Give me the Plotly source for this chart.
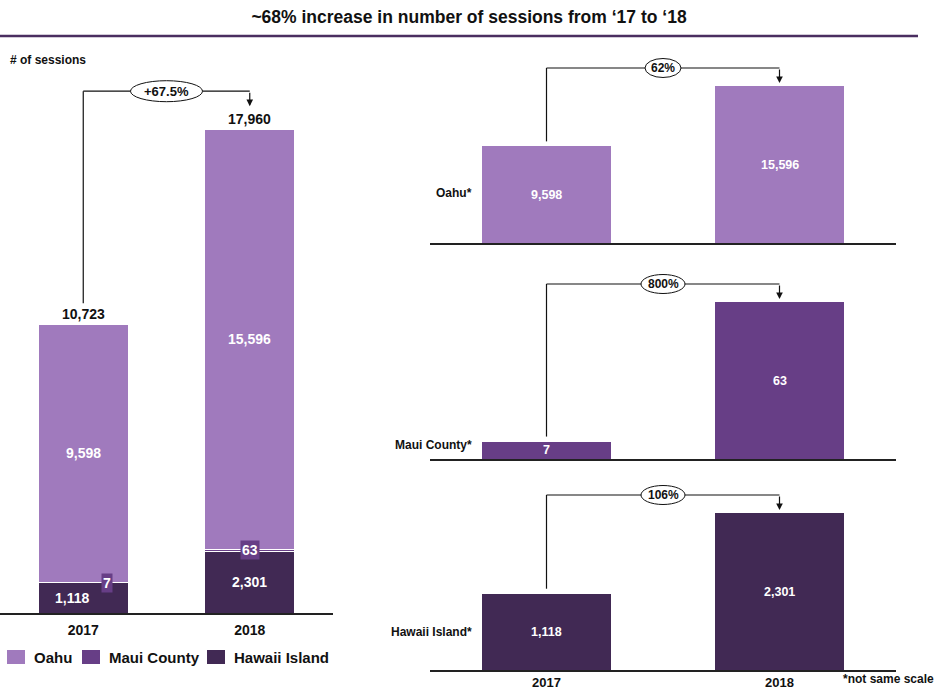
import plotly.graph_objects as go

W, H = 938, 693

# ---- data -------------------------------------------------------------
years = ["2017", "2018"]
oahu = [9598, 15596]
maui = [7, 63]
hawaii = [1118, 2301]
totals = [10723, 17960]
total_growth = "+67.5%"
region_names = ["Oahu", "Maui County", "Hawaii Island"]
region_growth = ["62%", "800%", "106%"]

COLORS = {"Oahu": "#a07abd", "Maui County": "#673e86", "Hawaii Island": "#412954"}
FONT = "Arial, 'Liberation Sans', sans-serif"


def py(p):
    """pixel row -> paper y"""
    return 1 - p / H


def px(p):
    """pixel column -> paper x"""
    return p / W


xs = [0, 1]
fig = go.Figure()
shapes, annos = [], []


def text_at(x, y, text, size, xanchor="center", color="#111"):
    annos.append(dict(xref="paper", yref="paper", x=px(x), y=py(y), xanchor=xanchor,
                      yanchor="middle", text=text, showarrow=False,
                      font=dict(size=size, color=color, family=FONT, weight="bold")))


def connector(xa, ya, v0, v1, k, start_gap, level_gap, tip_gap, label, ew, eh, fsize):
    """elbow arrow from the first bar to the second with an oval growth tag"""
    y_start = v0 + start_gap / k
    y_level = v1 + level_gap / k
    y_tip = v1 + tip_gap / k
    line = dict(color="#111", width=1.2)
    shapes.append(dict(type="line", xref=xa, yref=ya, x0=0, x1=0, y0=y_start, y1=y_level, line=line))
    shapes.append(dict(type="line", xref=xa, yref=ya, x0=0, x1=1, y0=y_level, y1=y_level, line=line))
    annos.append(dict(xref=xa, yref=ya, x=1, y=y_tip, ax=0, ay=-(level_gap - tip_gap),
                      text="", showarrow=True, arrowhead=2, arrowsize=1.1,
                      arrowwidth=1.2, arrowcolor="#111", standoff=0))
    shapes.append(dict(type="circle", xref=xa, yref=ya, xsizemode="pixel", ysizemode="pixel",
                       xanchor=0.5, yanchor=y_level, x0=-ew / 2, x1=ew / 2, y0=-eh / 2, y1=eh / 2,
                       fillcolor="white", line=dict(color="#111", width=1)))
    annos.append(dict(xref=xa, yref=ya, x=0.5, y=y_level, text=label, showarrow=False,
                      font=dict(size=fsize, color="#111", family=FONT, weight="bold")))


# ---- left: stacked totals --------------------------------------------
stack = [("Hawaii Island", hawaii), ("Maui County", maui), ("Oahu", oahu)]
for name, vals in stack:
    fig.add_trace(go.Bar(x=xs, y=vals, name=name, width=0.54, xaxis="x", yaxis="y",
                         marker=dict(color=COLORS[name], line=dict(color="white", width=1)),
                         showlegend=False, hoverinfo="skip"))

L_BASE, L_TOP, L_MAX = 613, 50, 20900
kL = (L_BASE - L_TOP) / L_MAX
white14 = dict(size=14, color="white", family=FONT, weight="bold")
for i in range(2):
    annos.append(dict(xref="x", yref="y", x=xs[i], y=hawaii[i] + maui[i] + oahu[i] / 2,
                      text=f"{oahu[i]:,}", showarrow=False, font=white14))
    annos.append(dict(xref="x", yref="y", x=xs[i], y=hawaii[i] / 2, xshift=-11 if i == 0 else 0,
                      text=f"{hawaii[i]:,}", showarrow=False, font=white14))
    annos.append(dict(xref="x", yref="y", x=xs[i], y=hawaii[i] + maui[i] / 2,
                      xshift=24 if i == 0 else 0, text=f"{maui[i]:,}", showarrow=False,
                      bgcolor=COLORS["Maui County"], borderpad=1, font=white14))
    annos.append(dict(xref="x", yref="y", x=xs[i], y=totals[i], yshift=10,
                      text=f"{totals[i]:,}", showarrow=False,
                      font=dict(size=14, color="#111", family=FONT, weight="bold")))
connector("x", "y", totals[0], totals[1], kL, 21, 38, 23, total_growth, 72, 21, 13)

# legend swatches under the stacked chart
legend_cols = [7, 82, 207]
for name, x0 in zip(region_names, legend_cols):
    shapes.append(dict(type="rect", xref="paper", yref="paper", x0=px(x0), x1=px(x0 + 18),
                       y0=py(664), y1=py(650), fillcolor=COLORS[name], line=dict(width=0)))
    text_at(x0 + 25, 657, name, 15, xanchor="left")

# ---- right: one panel per region (each on its own scale) --------------
panels = [("Oahu", oahu, 243), ("Maui County", maui, 459), ("Hawaii Island", hawaii, 670)]
R_X0, R_X1, R_SPAN, R_BAR = 430, 896, 194, 157
label_rows = [193, 445, 632]
for j, (name, vals, base) in enumerate(panels):
    n = j + 2
    xa, ya = f"x{n}", f"y{n}"
    rmax = vals[1] * R_SPAN / R_BAR
    k = R_SPAN / rmax
    fig.add_trace(go.Bar(x=xs, y=vals, width=0.55, xaxis=xa, yaxis=ya, showlegend=False,
                         marker=dict(color=COLORS[name], line=dict(width=0)), hoverinfo="skip"))
    for i in range(2):
        annos.append(dict(xref=xa, yref=ya, x=xs[i], y=vals[i] / 2, text=f"{vals[i]:,}",
                          showarrow=False,
                          font=dict(size=12.5, color="white", family=FONT, weight="bold")))
    connector(xa, ya, vals[0], vals[1], k, 5, 18, 3, region_growth[j], 44 if j else 36, 19, 12)
    text_at(474, label_rows[j], name + "*", 12, xanchor="right")
    fig.update_layout(**{
        f"xaxis{n}": dict(domain=[px(R_X0), px(R_X1)], range=[-0.5, 1.5], anchor=ya,
                          tickvals=xs, ticktext=years, showticklabels=(j == 2), ticks="",
                          showgrid=False, zeroline=False, showline=True, linecolor="#222",
                          linewidth=1.5, ticklabelstandoff=0,
                          tickfont=dict(size=13, color="#111", family=FONT, weight="bold")),
        f"yaxis{n}": dict(domain=[py(base), py(base - R_SPAN)], range=[0, rmax], anchor=xa,
                          visible=False),
    })

# ---- headings & notes -------------------------------------------------
text_at(8, 60, "# of sessions", 12, xanchor="left")
text_at(936, 679, "*not same scale", 12, xanchor="right")
shapes.append(dict(type="line", xref="paper", yref="paper", x0=0, x1=px(918),
                   y0=py(36), y1=py(36), line=dict(color="#4a2e60", width=2.5)))

fig.update_layout(
    width=W, height=H, margin=dict(l=0, r=0, t=0, b=0),
    paper_bgcolor="white", plot_bgcolor="white", barmode="stack", showlegend=False,
    font=dict(family=FONT, color="#111"),
    title=dict(text="~68% increase in number of sessions from ‘17 to ‘18", x=0.5, xanchor="center",
               y=py(17), yanchor="middle",
               font=dict(size=17.5, color="#111", family=FONT, weight="bold")),
    xaxis=dict(domain=[0, px(333)], range=[-0.5, 1.5], anchor="y", tickvals=xs, ticktext=years,
               ticks="", showgrid=False, zeroline=False, showline=True, linecolor="#222",
               linewidth=1.5, ticklabelstandoff=3,
               tickfont=dict(size=14, color="#111", family=FONT, weight="bold")),
    yaxis=dict(domain=[py(L_BASE), py(L_TOP)], range=[0, L_MAX], anchor="x", visible=False),
    shapes=shapes, annotations=annos,
)

fig.write_html("out.html")
